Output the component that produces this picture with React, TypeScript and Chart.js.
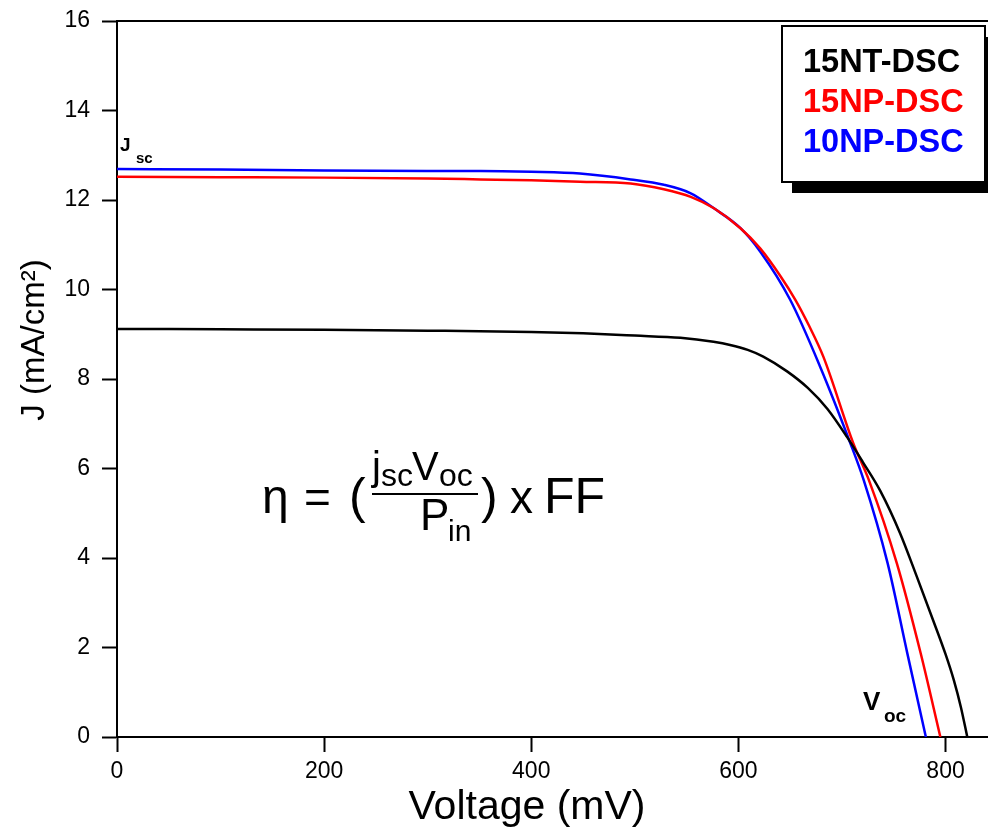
import React, { useEffect, useRef } from "react";
import { Chart, registerables } from "chart.js";

Chart.register(...registerables);

const seriesNames = ["15NT-DSC", "15NP-DSC", "10NP-DSC"];
const seriesColors = ["#000000", "#ff0000", "#0000ff"];

const voltage15NT = [0, 100, 200, 300, 400, 450, 500, 544, 576, 592, 609, 624, 647, 667, 686, 705, 720, 737, 756, 772, 788, 800, 808, 815, 821];
const current15NT = [9.12, 9.11, 9.1, 9.08, 9.05, 9.02, 8.97, 8.92, 8.83, 8.76, 8.65, 8.5, 8.17, 7.8, 7.33, 6.7, 6.15, 5.5, 4.56, 3.6, 2.61, 1.85, 1.27, 0.65, 0];

const voltage15NP = [0, 100, 200, 300, 351, 400, 447, 496, 528, 554, 576, 602, 621, 640, 655, 668, 682, 711, 726, 753, 776, 795];
const current15NP = [12.52, 12.51, 12.5, 12.48, 12.46, 12.44, 12.41, 12.37, 12.24, 12.07, 11.82, 11.37, 10.92, 10.32, 9.77, 9.2, 8.5, 6.56, 5.74, 3.88, 1.87, 0];

const voltage10NP = [0, 100, 200, 300, 351, 400, 447, 496, 528, 554, 576, 602, 621, 650, 679, 708, 721, 744, 763, 781];
const current10NP = [12.69, 12.68, 12.66, 12.65, 12.65, 12.63, 12.59, 12.46, 12.34, 12.15, 11.82, 11.37, 10.85, 9.77, 8.27, 6.57, 5.74, 3.89, 1.88, 0];

const xTitle = "Voltage (mV)";
const yTitle = "J (mA/cm²)";
const xTickStep = 200;
const yTickStep = 2;
const xMin = 0;
const xMax = 841;
const yMin = 0;
const yMax = 16;

const FONT = "'Liberation Sans', Arial, sans-serif";

const framePlugin = {
  id: "frameTop",
  afterDraw(chart: any) {
    const { ctx, chartArea } = chart;
    ctx.save();
    ctx.strokeStyle = "#000";
    ctx.lineWidth = 2;
    ctx.beginPath();
    ctx.moveTo(chartArea.left - 1, chartArea.top);
    ctx.lineTo(chartArea.right, chartArea.top);
    ctx.stroke();
    // axis titles
    ctx.fillStyle = "#000";
    ctx.textAlign = "center";
    ctx.textBaseline = "alphabetic";
    ctx.font = `41px ${FONT}`;
    ctx.fillText(xTitle, chartArea.left + 410, chartArea.bottom + 82);
    ctx.translate(chartArea.left - 82, chartArea.top + 319);
    ctx.rotate(-Math.PI / 2);
    ctx.textBaseline = "middle";
    ctx.font = `33px ${FONT}`;
    ctx.fillText(yTitle, 0, 0);
    ctx.restore();
  },
};

const legendPlugin = {
  id: "boxLegend",
  afterDraw(chart: any) {
    const { ctx, chartArea } = chart;
    const right = chartArea.right - 3;
    const left = right - 203;
    const top = chartArea.top + 5;
    const h = 156;
    ctx.save();
    ctx.fillStyle = "#000";
    ctx.fillRect(left + 10, top + 11, 203, h);
    ctx.fillStyle = "#fff";
    ctx.fillRect(left, top, 203, h);
    ctx.strokeStyle = "#000";
    ctx.lineWidth = 2;
    ctx.strokeRect(left, top, 203, h);
    ctx.font = `bold 32.5px ${FONT}`;
    ctx.textBaseline = "middle";
    ctx.textAlign = "left";
    chart.data.datasets.forEach((ds: any, i: number) => {
      ctx.fillStyle = ds.borderColor;
      ctx.fillText(ds.label, left + 21, top + 37 + i * 40);
    });
    ctx.restore();
  },
};

function txt(ctx: any, s: string, x: number, y: number, font: string) {
  ctx.font = font;
  ctx.fillText(s, x, y);
}

const annotationPlugin = {
  id: "annotations",
  afterDraw(chart: any) {
    const { ctx, chartArea } = chart;
    const L = chartArea.left;
    const T = chartArea.top;
    ctx.save();
    ctx.fillStyle = "#000";
    ctx.textBaseline = "alphabetic";
    ctx.textAlign = "left";
    // Jsc
    txt(ctx, "J", L + 3, T + 130, `bold 19px ${FONT}`);
    txt(ctx, "sc", L + 19, T + 142, `bold 15px ${FONT}`);
    // Voc
    txt(ctx, "V", L + 746, T + 689, `bold 26px ${FONT}`);
    txt(ctx, "oc", L + 767, T + 701, `bold 19px ${FONT}`);
    // formula
    txt(ctx, "η", L + 145, T + 492, `48px ${FONT}`);
    txt(ctx, "=", L + 187, T + 492, `46px ${FONT}`);
    txt(ctx, "(", L + 232, T + 492, `50px ${FONT}`);
    txt(ctx, "j", L + 255, T + 459, `40px ${FONT}`);
    txt(ctx, "sc", L + 264, T + 465, `32px ${FONT}`);
    txt(ctx, "V", L + 295, T + 459, `40px ${FONT}`);
    txt(ctx, "oc", L + 322, T + 465, `32px ${FONT}`);
    ctx.fillRect(L + 255, T + 472, 106, 2);
    txt(ctx, "P", L + 303, T + 509, `44px ${FONT}`);
    txt(ctx, "in", L + 331, T + 520, `30px ${FONT}`);
    txt(ctx, ")", L + 364, T + 492, `50px ${FONT}`);
    txt(ctx, "x", L + 393, T + 492, `46px ${FONT}`);
    txt(ctx, "FF", L + 427, T + 492, `50px ${FONT}`);
    ctx.restore();
  },
};

export default function App() {
  const canvasRef = useRef<HTMLCanvasElement | null>(null);

  useEffect(() => {
    const canvas = canvasRef.current;
    if (!canvas) return;
    const mk = (vs: number[], js: number[]) => vs.map((v, i) => ({ x: v, y: js[i] }));
    const series = [
      mk(voltage15NT, current15NT),
      mk(voltage15NP, current15NP),
      mk(voltage10NP, current10NP),
    ];
    const tickFont = { family: FONT, size: 23 };
    const chart = new Chart(canvas, {
      type: "line",
      data: {
        datasets: series.map((d, i) => ({
          label: seriesNames[i],
          data: d,
          borderColor: seriesColors[i],
          backgroundColor: seriesColors[i],
          borderWidth: 2.5,
          pointRadius: 0,
          fill: false,
          cubicInterpolationMode: "monotone" as const,
        })),
      },
      options: {
        animation: false,
        responsive: false,
        maintainAspectRatio: false,
        layout: { padding: { top: 21, right: 0, left: 0, bottom: 0 } },
        plugins: { legend: { display: false }, tooltip: { enabled: false } },
        scales: {
          x: {
            type: "linear",
            min: xMin,
            max: xMax,
            ticks: {
              stepSize: xTickStep,
              includeBounds: false,
              color: "#000",
              font: tickFont,
              padding: 6,
              maxRotation: 0,
            },
            grid: {
              display: true,
              drawOnChartArea: false,
              drawTicks: true,
              tickLength: 15,
              tickWidth: 2,
              tickColor: "#000",
            },
            border: { display: true, color: "#000", width: 2 },
            title: { display: false },
            afterFit: (s: any) => {
              s.height = 92;
              s.paddingLeft = 0;
              s.paddingRight = 0;
            },
          },
          y: {
            type: "linear",
            min: yMin,
            max: yMax,
            ticks: {
              stepSize: yTickStep,
              color: "#000",
              font: tickFont,
              padding: 12,
            },
            grid: {
              display: true,
              drawOnChartArea: false,
              drawTicks: true,
              tickLength: 15,
              tickWidth: 2,
              tickColor: "#000",
            },
            border: { display: true, color: "#000", width: 2 },
            title: { display: false },
            afterFit: (s: any) => {
              s.width = 117;
              s.paddingTop = 0;
              s.paddingBottom = 0;
            },
          },
        },
      },
      plugins: [framePlugin, legendPlugin, annotationPlugin],
    } as any);
    return () => chart.destroy();
  }, []);

  return (
    <div style={{ position: "fixed", left: 0, top: 0, width: 988, height: 829, background: "#fff" }}>
      <canvas ref={canvasRef} width={988} height={829} style={{ display: "block", width: 988, height: 829 }} />
    </div>
  );
}
